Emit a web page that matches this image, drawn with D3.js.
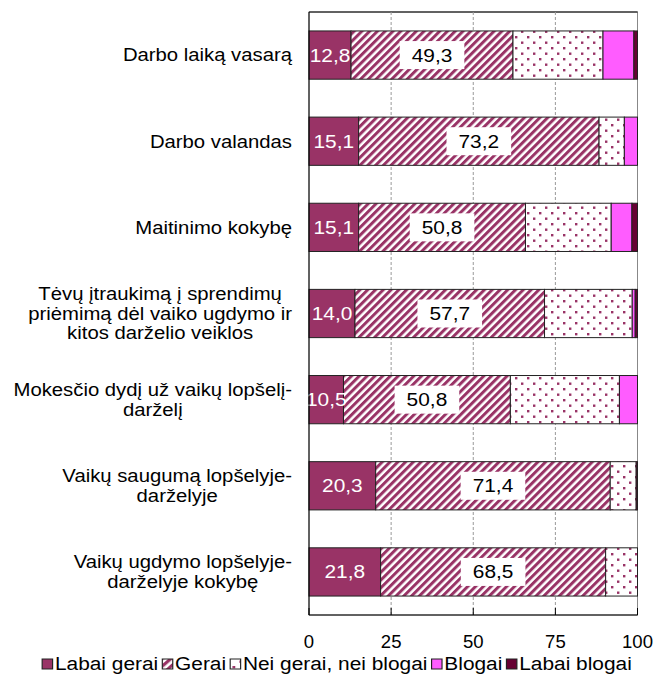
<!DOCTYPE html>
<html lang="lt">
<head>
<meta charset="UTF-8">
<script src="https://d3js.org/d3.v7.min.js"></script>
<style>
  body { margin: 0; background: #fff; font-family: "Liberation Sans", Arial, sans-serif; }
  svg text { font-family: "Liberation Sans", Arial, sans-serif; }
</style>
</head>
<body>
<script>
// categories (top to bottom), each label split into its lines
const categories = [
  ["Darbo laiką vasarą"],
  ["Darbo valandas"],
  ["Maitinimo kokybę"],
  ["Tėvų įtraukimą į sprendimų", "priėmimą dėl vaiko ugdymo ir", "kitos darželio veiklos"],
  ["Mokesčio dydį už vaikų lopšelį-", "darželį"],
  ["Vaikų saugumą lopšelyje-", "darželyje"],
  ["Vaikų ugdymo lopšelyje-", "darželyje kokybę"]
];
const series = ["Labai gerai", "Gerai", "Nei gerai, nei blogai", "Blogai", "Labai blogai"];
const labaiGerai = [12.8, 15.1, 15.1, 14.0, 10.5, 20.3, 21.8];
const gerai      = [49.3, 73.2, 50.8, 57.7, 50.8, 71.4, 68.5];
const neiNei     = [27.4, 7.7, 26.1, 26.7, 33.2, 7.9, 9.7];
const blogai     = [9.4, 4.0, 6.3, 0.9, 5.5, 0, 0];
const labaiBlogai = [1.1, 0, 1.7, 0.7, 0, 0.4, 0];
const xTicks = [0, 25, 50, 75, 100];

const W = 657, H = 684;
const margin = {top: 12, left: 309, right: 19.5, bottom: 69};
const width = W - margin.left - margin.right;
const height = H - margin.top - margin.bottom;
const sx = 1.16; // text in the original is a little wide

const svg = d3.select("body").append("svg").attr("width", W).attr("height", H);

const defs = svg.append("defs");
const plum = "#993366";
// diagonal stripes
const stripe = defs.append("pattern").attr("id", "stripe")
  .attr("patternUnits", "userSpaceOnUse").attr("width", 5.5).attr("height", 5.5)
  .attr("patternTransform", "rotate(45)");
stripe.append("rect").attr("width", 5.5).attr("height", 5.5).attr("fill", "#fff");
stripe.append("rect").attr("width", 3).attr("height", 5.5).attr("fill", plum);
// dots
const dots = defs.append("pattern").attr("id", "dots")
  .attr("patternUnits", "userSpaceOnUse").attr("width", 12).attr("height", 11);
dots.append("rect").attr("width", 12).attr("height", 11).attr("fill", "#fff");
dots.append("rect").attr("x", 2).attr("y", 2).attr("width", 2.4).attr("height", 2.4).attr("fill", plum);
dots.append("rect").attr("x", 8).attr("y", 7.5).attr("width", 2.4).attr("height", 2.4).attr("fill", plum);

const fills = [plum, "url(#stripe)", "url(#dots)", "#ff5cff", "#660033"];

const rows = categories.map((c, i) => ({
  i, label: c,
  vals: [labaiGerai[i], gerai[i], neiNei[i], blogai[i], labaiBlogai[i]]
}));

const x = d3.scaleLinear().domain([0, 100]).range([0, width]);
const y = d3.scaleBand().domain(d3.range(categories.length)).range([0, height])
  .paddingInner(0.44).paddingOuter(0.22);

const g = svg.append("g").attr("transform", `translate(${margin.left},${margin.top})`);

// plot border + gridlines
g.append("rect").attr("width", width).attr("height", height)
  .attr("fill", "none").attr("stroke", "#888").attr("stroke-width", 1);
g.append("line").attr("x1", 0).attr("x2", width).attr("y1", 0).attr("y2", 0)
  .attr("stroke", "#000");
g.selectAll(".grid").data(xTicks.slice(1, -1)).join("line")
  .attr("class", "grid")
  .attr("x1", d => x(d)).attr("x2", d => x(d))
  .attr("y1", 0).attr("y2", height)
  .attr("stroke", "#999").attr("stroke-dasharray", "3,2");

const fmt = v => d3.format(".1f")(v).replace(".", ",");

// stacked segments
rows.forEach(r => {
  let acc = 0;
  const segs = r.vals.map((v, k) => { const s = {k, x0: acc, x1: acc + v, v}; acc += v; return s; });
  const rg = g.append("g");
  rg.selectAll("rect").data(segs.filter(s => s.v > 0)).join("rect")
    .attr("x", s => x(s.x0)).attr("width", s => x(s.x1) - x(s.x0))
    .attr("y", y(r.i)).attr("height", y.bandwidth())
    .attr("fill", s => fills[s.k])
    .attr("stroke", "#222").attr("stroke-width", 1);

  const cy = y(r.i) + y.bandwidth() / 2;
  // Labai gerai value
  rg.append("text")
    .attr("transform", `translate(${x((segs[0].x0 + segs[0].x1) / 2)},${cy}) scale(${sx},1)`)
    .attr("text-anchor", "middle").attr("dy", "0.36em")
    .attr("font-size", 18).attr("fill", "#fff")
    .text(fmt(segs[0].v));
  // Gerai value on white box
  const gx = x((segs[1].x0 + segs[1].x1) / 2);
  const lab = rg.append("text")
    .attr("transform", `translate(${gx},${cy}) scale(${sx},1)`)
    .attr("text-anchor", "middle").attr("dy", "0.36em")
    .attr("font-size", 18).attr("fill", "#000")
    .text(fmt(segs[1].v));
  const tw = lab.node().getComputedTextLength() * sx;
  rg.insert("rect", function () { return lab.node(); })
    .attr("x", gx - tw / 2 - 12).attr("y", cy - 14)
    .attr("width", tw + 24).attr("height", 28).attr("fill", "#fff");
});

// axis line, ticks (inside), labels
g.append("line").attr("x1", 0).attr("x2", width).attr("y1", height).attr("y2", height)
  .attr("stroke", "#000");
g.append("line").attr("x1", 0).attr("x2", 0).attr("y1", 0).attr("y2", height)
  .attr("stroke", "#000");
g.selectAll(".tick").data(xTicks).join("line")
  .attr("x1", d => x(d)).attr("x2", d => x(d))
  .attr("y1", height).attr("y2", height - 7).attr("stroke", "#000");
g.selectAll(".tlab").data(xTicks).join("text")
  .attr("transform", d => `translate(${x(d)},${height + 27}) scale(1.06,1)`)
  .attr("text-anchor", "middle").attr("dy", "0.36em")
  .attr("font-size", 17.5).text(d => d);

// category labels: block right aligned, lines centred in block
const lineH = 19.6;
rows.forEach(r => {
  const cy = margin.top + y(r.i) + y.bandwidth() / 2;
  const tg = svg.append("g")
    .attr("transform", `translate(${margin.left - 17},0) scale(${sx},1)`);
  const t = tg.selectAll("text").data(r.label).join("text")
    .attr("font-size", 17.5).attr("dy", "0.36em")
    .attr("y", (d, j) => cy + (j - (r.label.length - 1) / 2) * lineH)
    .text(d => d);
  const bw = d3.max(t.nodes(), n => n.getComputedTextLength());
  t.attr("text-anchor", "middle").attr("x", -bw / 2);
});

// legend
const leg = svg.append("g");
const items = leg.selectAll("g").data(series).join("g");
items.append("rect").attr("width", 9).attr("height", 10).attr("y", -5)
  .attr("fill", (d, k) => fills[k]).attr("stroke", "#222");
items.append("text").attr("x", 11).attr("dy", "0.36em").attr("font-size", 18).text(d => d);
let lx = 0;
const pos = [];
items.each(function () {
  pos.push(lx);
  lx += 11 + this.querySelector("text").getComputedTextLength() + 3.5;
});
items.attr("transform", (d, k) => `translate(${pos[k]},0)`);
const total = (lx - 3.5) * sx;
leg.attr("transform", `translate(${337 - total / 2},664) scale(${sx},1)`);
</script>
</body>
</html>
